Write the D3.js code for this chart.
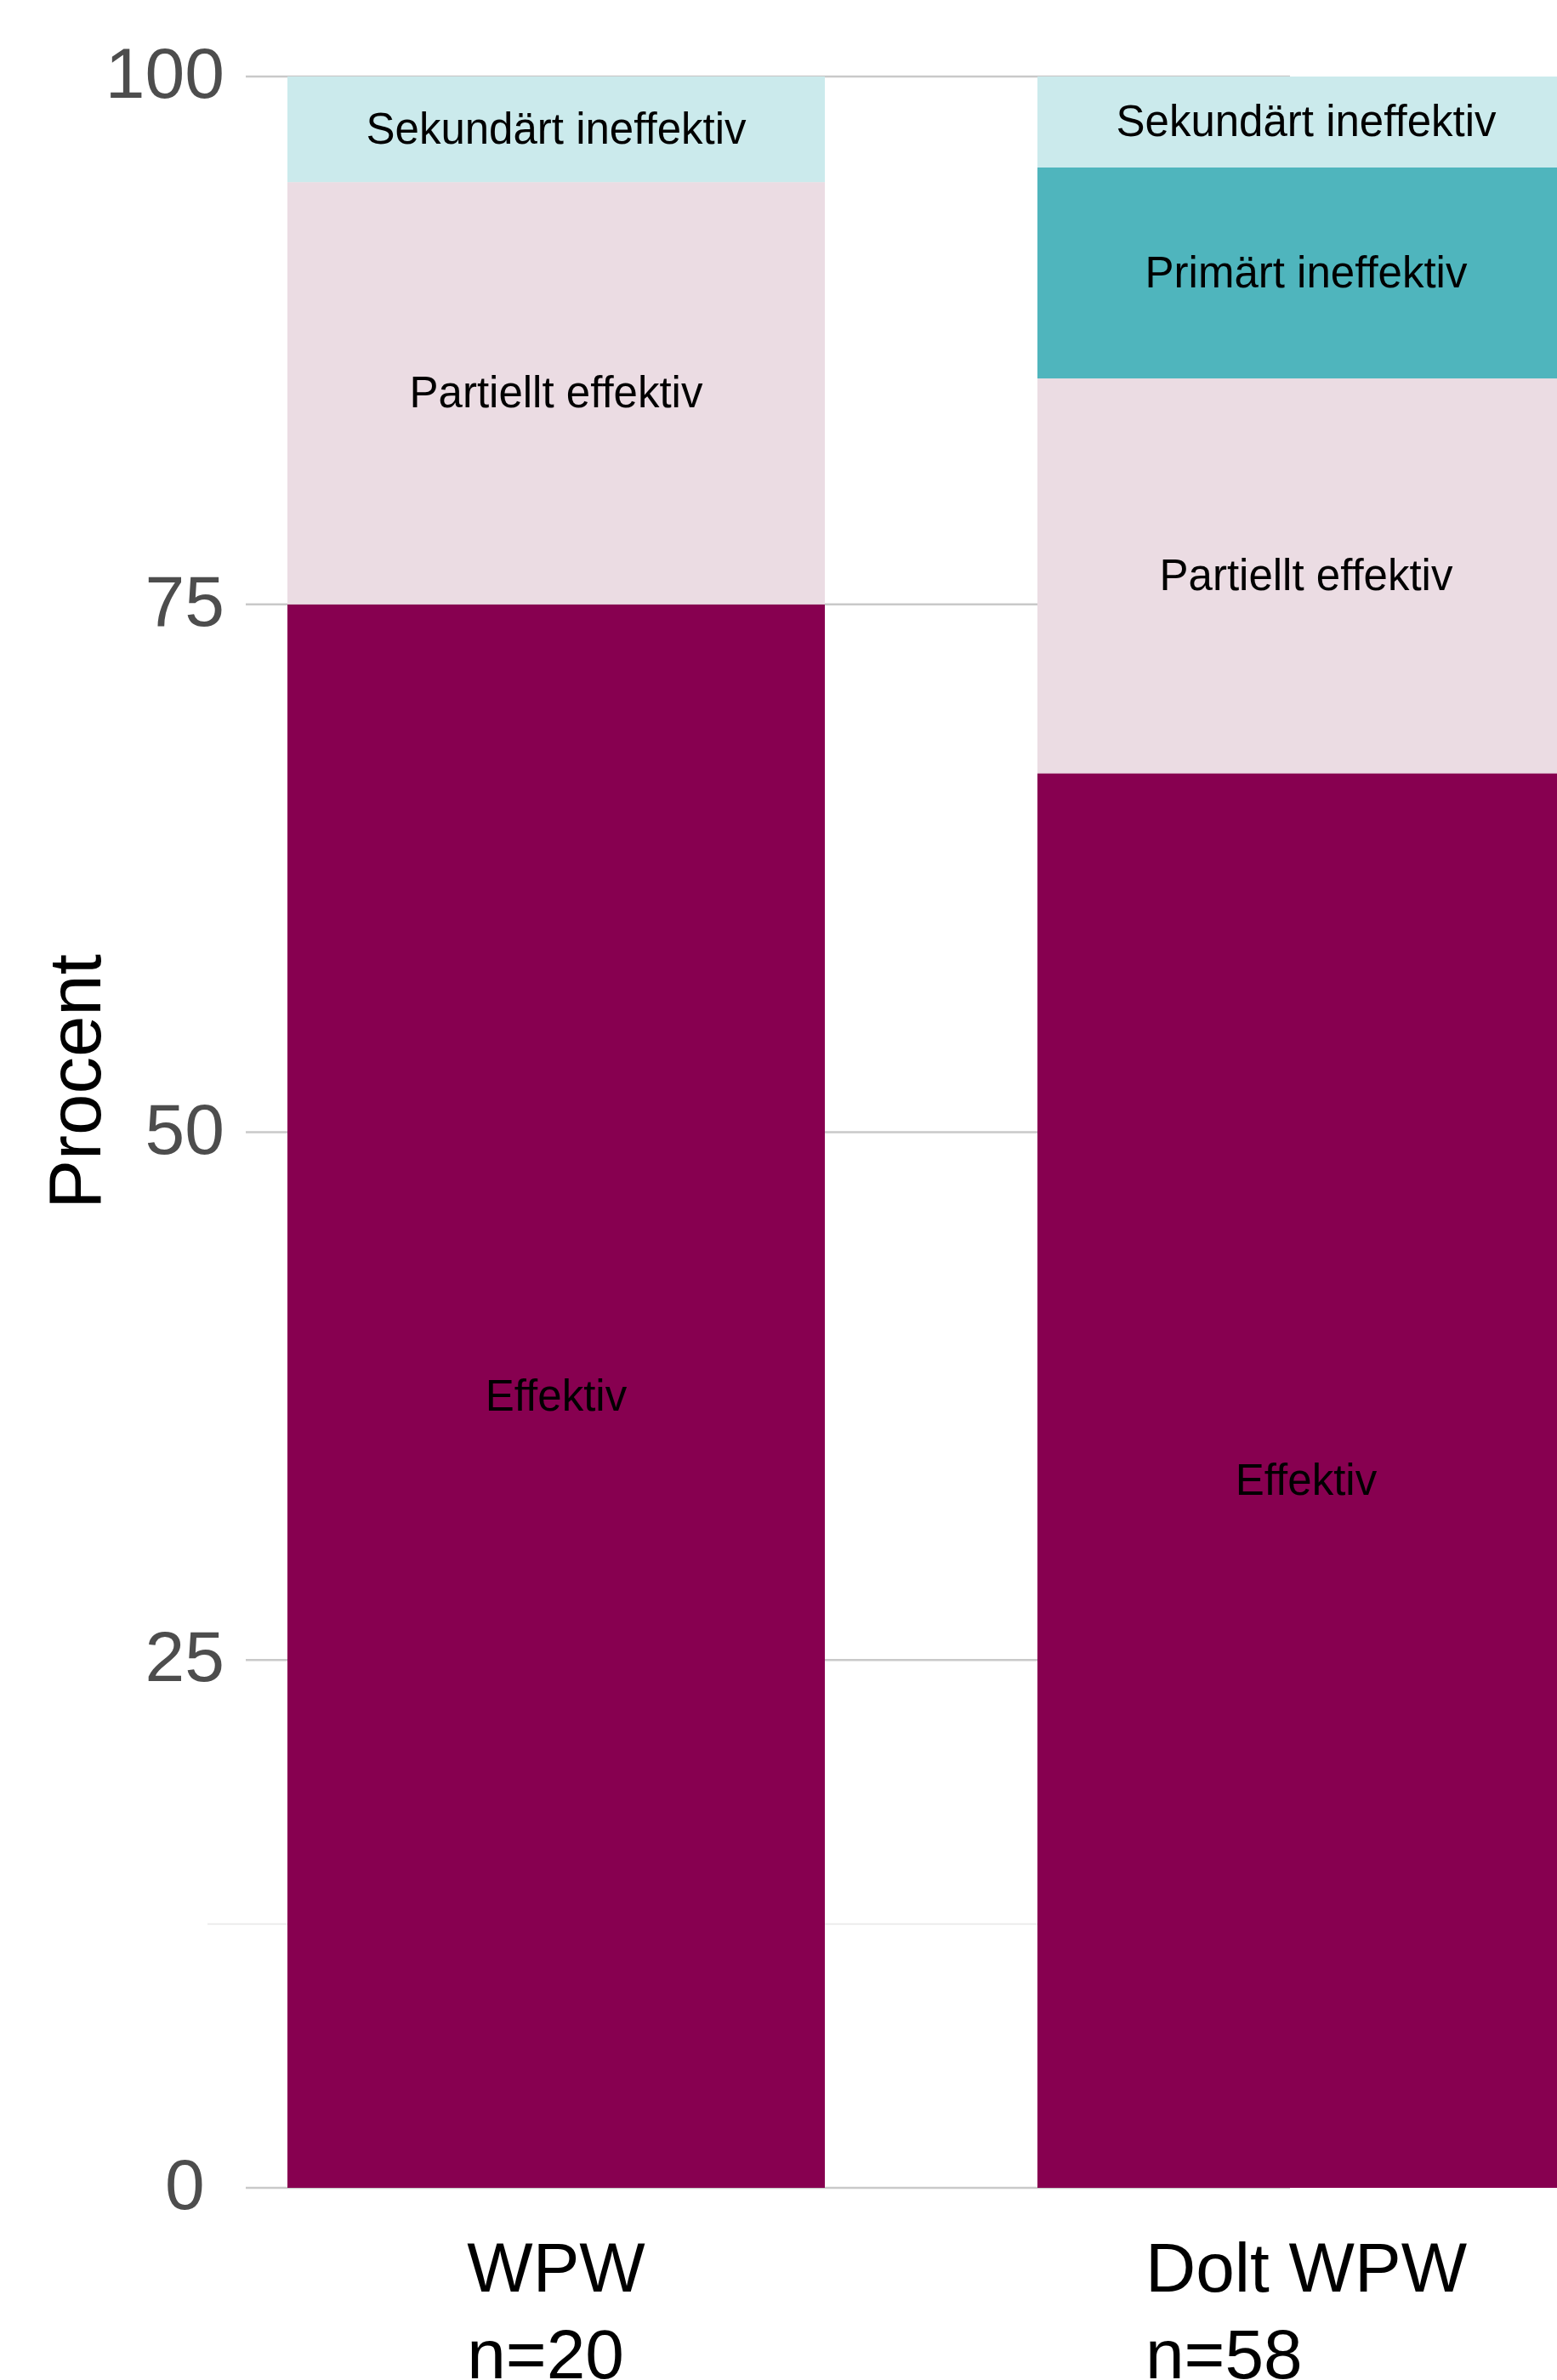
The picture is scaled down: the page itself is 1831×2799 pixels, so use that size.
<!DOCTYPE html>
<html>
<head>
<meta charset="utf-8">
<script src="https://cdn.jsdelivr.net/npm/d3@7"></script>
<style>
  html, body { margin: 0; padding: 0; background: #ffffff; }
  svg { display: block; }
  text { font-family: "Liberation Sans", Arial, sans-serif; }
</style>
</head>
<body>
<svg id="chart" width="1831" height="2799"></svg>
<script>
// ---- data ----
const categories = ["WPW", "Dolt WPW"];
const categoryN = ["n=20", "n=58"];
const seriesKeys = ["Effektiv", "Partiellt effektiv", "Primärt ineffektiv", "Sekundärt ineffektiv"];
const effektiv = [75, 67.0];
const partielltEffektiv = [20, 18.7];
const primartIneffektiv = [0, 10.0];
const sekundartIneffektiv = [5, 4.3];
const yTicks = [0, 25, 50, 75, 100];
const yTickLabels = ["0 ", "25", "50", "75", "100"];
const minorTicks = [12.5];
const yTitle = "Procent";
const colors = ["#870050", "#EBDCE3", "#4FB5BD", "#CBEAEC"];

const seriesValues = [effektiv, partielltEffektiv, primartIneffektiv, sekundartIneffektiv];
const rows = categories.map((c, i) => {
  const r = { cat: c };
  seriesKeys.forEach((k, j) => r[k] = seriesValues[j][i]);
  return r;
});

// ---- layout ----
const svg = d3.select("#chart");
const y = d3.scaleLinear().domain([0, 100]).range([2573, 90]);
const x = d3.scaleBand().domain(categories).range([338, 1852])
  .paddingInner(250 / 882).paddingOuter(0);
const color = d3.scaleOrdinal().domain(seriesKeys).range(colors);
const gridX0 = 289, gridX1 = 1517, minorX0 = 244;

// minor grid
svg.append("g").selectAll("line").data(minorTicks).join("line")
  .attr("x1", minorX0).attr("x2", gridX1)
  .attr("y1", d => y(d)).attr("y2", d => y(d))
  .attr("stroke", "#ececec").attr("stroke-width", 2);

// major grid
svg.append("g").selectAll("line").data(yTicks).join("line")
  .attr("x1", gridX0).attr("x2", gridX1)
  .attr("y1", d => y(d)).attr("y2", d => y(d))
  .attr("stroke", "#c9c9c9").attr("stroke-width", 2.5);

// y tick labels
svg.append("g").selectAll("text").data(yTicks).join("text")
  .attr("x", 264).attr("y", d => y(d))
  .attr("text-anchor", "end").attr("dy", "0.3em")
  .attr("xml:space", "preserve").style("white-space", "pre")
  .attr("font-size", 84).attr("fill", "#4d4d4d")
  .text((d, i) => yTickLabels[i]);

// y title
svg.append("text")
  .attr("transform", "translate(118,1272) rotate(-90)")
  .attr("text-anchor", "middle")
  .attr("font-size", 87).attr("fill", "#000")
  .text(yTitle);

// stacked bars
const stack = d3.stack().keys(seriesKeys)(rows);
const layers = svg.append("g").selectAll("g").data(stack).join("g")
  .attr("fill", d => color(d.key));
layers.selectAll("rect").data(d => d.map(p => ({ p, key: d.key })))
  .join("rect")
  .attr("x", d => x(d.p.data.cat))
  .attr("width", x.bandwidth())
  .attr("y", d => y(d.p[1]))
  .attr("height", d => y(d.p[0]) - y(d.p[1]));

// segment labels
const segLabels = [];
stack.forEach(layer => layer.forEach(p => {
  if (p[1] - p[0] > 0) segLabels.push({ key: layer.key, cat: p.data.cat, mid: (p[0] + p[1]) / 2 });
}));
svg.append("g").selectAll("text").data(segLabels).join("text")
  .attr("x", d => x(d.cat) + x.bandwidth() / 2)
  .attr("y", d => y(d.mid))
  .attr("dy", "0.33em")
  .attr("text-anchor", "middle")
  .attr("font-size", 51).attr("fill", "#000")
  .text(d => d.key);

// x labels (two lines, left-justified block centred on bar)
const xl = svg.append("g");
categories.forEach((c, i) => {
  const cx = x(c) + x.bandwidth() / 2;
  const t1 = xl.append("text").attr("font-size", 82).attr("fill", "#000").attr("y", 2695).text(c);
  const w = t1.node().getComputedTextLength();
  t1.attr("x", cx - w / 2);
  xl.append("text").attr("font-size", 82).attr("fill", "#000")
    .attr("x", cx - w / 2).attr("y", 2797).text(categoryN[i]);
});
</script>
</body>
</html>
